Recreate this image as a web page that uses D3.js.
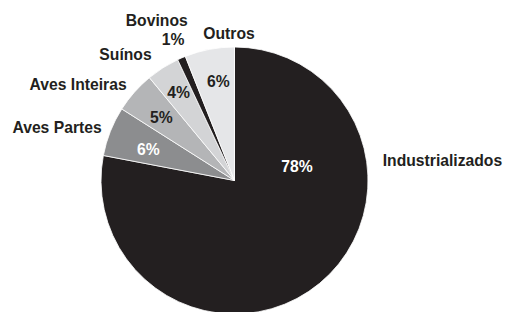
<!DOCTYPE html>
<html lang="pt">
<head>
<meta charset="UTF-8">
<title>Participação por categoria</title>
<script src="https://d3js.org/d3.v7.min.js"></script>
<style>
  html, body { margin: 0; padding: 0; background: #fff; }
  svg { display: block; }
  text { font-family: "Liberation Sans", Arial, Helvetica, sans-serif; font-weight: bold; font-size: 15.7px; }
</style>
</head>
<body>
<svg width="506" height="312"></svg>
<script>
  // data, clockwise from 12 o'clock
  const categories = ["Industrializados", "Aves Partes", "Aves Inteiras", "Suínos", "Bovinos", "Outros"];
  const shares = [78, 6, 5, 4, 1, 6];
  const percentLabels = ["78%", "6%", "5%", "4%", "1%", "6%"];

  const fills = ["#231f20", "#8c8d8f", "#b4b5b7", "#d3d4d6", "#231f20", "#e5e6e8"];
  const pctColors = ["#fff", "#fff", "#231f20", "#231f20", "#231f20", "#231f20"];

  // label placement relative to pie centre (baseline positions)
  const pctPos = [[62.5, -8.2], [-86.2, -25.5], [-73.2, -57.2], [-55.8, -82.2], [-72.8, -136.0], [-16.2, -93.8]];
  const pctAnchor = ["middle", "middle", "middle", "middle", "start", "middle"];
  const namePos = [[148.2, -14.5, "start"], [-132.8, -47.8, "end"], [-107.8, -90.2, "end"],
                   [-82.8, -120.5, "end"], [-46.8, -154.3, "end"], [-31.2, -141.2, "start"]];

  const cx = 234.5, cy = 180.5, R = 133.5;
  const stretch = 1.1; // the lettering in the original is a little tall
  const svg = d3.select("svg");
  const g = svg.append("g").attr("transform", `translate(${cx},${cy})`);

  const pie = d3.pie().sort(null).value(d => d.v);
  const arc = d3.arc().innerRadius(0).outerRadius(R);
  const arcs = pie(categories.map((c, i) => ({ name: c, v: shares[i], i })));

  g.selectAll("path.slice")
    .data(arcs)
    .enter()
    .append("path")
    .attr("class", "slice")
    .attr("d", arc)
    .attr("fill", d => fills[d.data.i])
    .attr("stroke", "#fff")
    .attr("stroke-width", 0.8);

  // category names
  g.selectAll("text.name")
    .data(arcs)
    .enter()
    .append("text")
    .attr("class", "name")
    .attr("transform", d => `translate(${namePos[d.data.i][0]},${namePos[d.data.i][1]}) scale(1,${stretch})`)
    .attr("text-anchor", d => namePos[d.data.i][2])
    .attr("fill", "#231f20")
    .text(d => d.data.name);

  // percentages
  g.selectAll("text.pct")
    .data(arcs)
    .enter()
    .append("text")
    .attr("class", "pct")
    .attr("transform", d => `translate(${pctPos[d.data.i][0]},${pctPos[d.data.i][1]}) scale(1,${stretch})`)
    .attr("text-anchor", d => pctAnchor[d.data.i])
    .attr("fill", d => pctColors[d.data.i])
    .text(d => percentLabels[d.data.i]);
</script>
</body>
</html>
